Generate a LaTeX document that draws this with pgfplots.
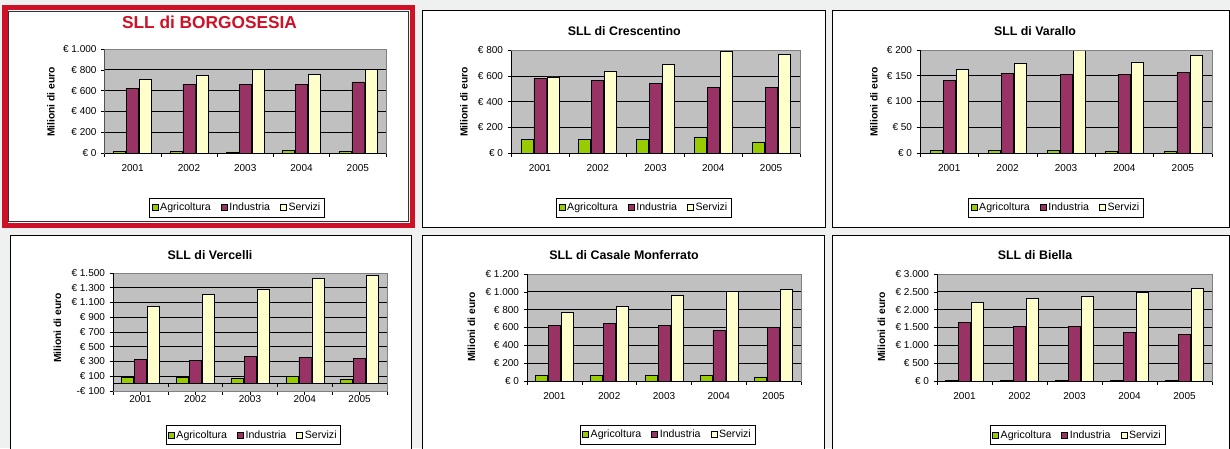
\documentclass[border=0pt]{standalone}
\usepackage{fontspec}
\setmainfont{Liberation Sans}
\usepackage{pgfplots}
\pgfplotsset{compat=1.18}
\definecolor{bgc}{RGB}{239,240,240}
\definecolor{agri}{RGB}{153,204,0}
\definecolor{ind}{RGB}{153,51,102}
\definecolor{serv}{RGB}{255,255,204}
\definecolor{plotbg}{RGB}{192,192,192}
\definecolor{plotborder}{RGB}{128,128,128}
\definecolor{titlered}{RGB}{206,17,38}
\pgfplotsset{
  panel/.style={
    scale only axis,
    anchor=south west,
    ybar=1pt, bar width=12pt,
    xmin=-0.5, xmax=4.5,
    xtick={-0.5,0.5,1.5,2.5,3.5,4.5}, xticklabels={},
    extra x ticks={0,1,2,3,4},
    extra x tick labels={2001,2002,2003,2004,2005},
    extra x tick style={major tick length=0pt, tick label style={yshift=-8pt}},
    tick pos=left, tick align=outside, major tick length=3.5pt,
    tick style={black, line width=0.6pt},
    ymajorgrids, grid style={black, line width=0.7pt},
    axis line style={draw=plotborder, line width=0.9pt},
    axis background/.style={fill=plotbg},
    tick label style={font=\fontsize{10}{12}\selectfont},
    yticklabel style={xshift=-1pt},
    legend columns=3,
    legend style={draw=black, line width=0.6pt, font=\fontsize{10.6}{12}\selectfont,
      inner xsep=2pt, inner ysep=3pt, at={(0.5,0)}, anchor=center,
      /tikz/every even column/.append style={column sep=8pt}},
    every axis plot/.append style={draw=black, line width=0.5pt,
      legend image code/.code={\draw[##1, draw=black, line width=0.5pt] (0pt,-3pt) rectangle (6pt,3pt);}},
  },
}
\newcommand{\axlines}{%
  \draw[plotborder, line width=0.9pt] (rel axis cs:0,1) -- (rel axis cs:1,1);
  \draw[black, line width=0.9pt] (rel axis cs:0,0) -- (rel axis cs:0,1);
}
\begin{document}
\begin{tikzpicture}[x=1pt,y=1pt]
\useasboundingbox (0,0) rectangle (1230,448);
\fill[bgc] (0,0) rectangle (1230,448);
% panels
\fill[white] (2,220) rectangle (415,443);
\draw[titlered, line width=5.5pt] (4.75,222.75) rectangle (412.25,440.25);
\draw[black!80, line width=0.7pt] (8,227) rectangle (408.5,437);
\draw[black, line width=1pt, fill=white] (422,221) rectangle (825,437);
\draw[black, line width=1pt, fill=white] (832,221) rectangle (1229.5,437);
\draw[black, line width=1pt, fill=white] (10,-5) rectangle (411,213);
\draw[black, line width=1pt, fill=white] (422,-5) rectangle (824,213);
\draw[black, line width=1pt, fill=white] (832,-5) rectangle (1229.5,213);
\coordinate (a1) at (104.5,295);
\coordinate (a2) at (511,295);
\coordinate (a3) at (920,295);
\coordinate (a4) at (113,57);
\coordinate (a5) at (527,67);
\coordinate (a6) at (937,67);
% titles
\node[font=\fontsize{17.3}{20}\selectfont\bfseries, text=titlered] at (209.5,425.3) {SLL di BORGOSESIA};
\node[font=\fontsize{12.4}{14}\selectfont\bfseries] at (624.3,417) {SLL di Crescentino};
\node[font=\fontsize{12.4}{14}\selectfont\bfseries] at (1035,417) {SLL di Varallo};
\node[font=\fontsize{12.4}{14}\selectfont\bfseries] at (210,193.3) {SLL di Vercelli};
\node[font=\fontsize{12.4}{14}\selectfont\bfseries] at (624,193) {SLL di Casale Monferrato};
\node[font=\fontsize{12.4}{14}\selectfont\bfseries] at (1035,193) {SLL di Biella};
% y labels
\foreach \p in {(51,346),(464,346),(874,346),(57.5,120),(471.5,121),(881.5,121)}
  \node[rotate=90, font=\fontsize{10.3}{12}\selectfont\bfseries] at \p {Milioni di euro};

% 1 Borgosesia
\begin{axis}[panel, at={(a1)}, width=281.5pt, height=104pt,
  ymin=0, ymax=1000, ytick={0,200,400,600,800,1000},
  yticklabels={€ 0,€ 200,€ 400,€ 600,€ 800,€ 1.000},
  legend style={xshift=-8.25pt, yshift=-54.5pt}]
\addplot[fill=agri] coordinates {(0,15) (1,15) (2,12) (3,25) (4,15)};
\addplot[fill=ind] coordinates {(0,625) (1,657) (2,657) (3,657) (4,683)};
\addplot[fill=serv] coordinates {(0,705) (1,744) (2,808) (3,753) (4,801)};
\legend{Agricoltura,Industria,Servizi}
\axlines
\draw[black, line width=0.9pt] (rel axis cs:0,0) -- (rel axis cs:1,0);
\end{axis}

% 2 Crescentino
\begin{axis}[panel, at={(a2)}, width=289pt, height=102.5pt,
  ymin=0, ymax=800, ytick={0,200,400,600,800},
  yticklabels={€ 0,€ 200,€ 400,€ 600,€ 800},
  legend style={xshift=-11.5pt, yshift=-54.5pt}]
\addplot[fill=agri] coordinates {(0,109) (1,109) (2,105) (3,125) (4,86)};
\addplot[fill=ind] coordinates {(0,584) (1,564) (2,545) (3,512) (4,514)};
\addplot[fill=serv] coordinates {(0,595) (1,642) (2,691) (3,797) (4,771)};
\legend{Agricoltura,Industria,Servizi}
\axlines
\draw[black, line width=0.9pt] (rel axis cs:0,0) -- (rel axis cs:1,0);
\end{axis}

% 3 Varallo
\begin{axis}[panel, at={(a3)}, width=292pt, height=103pt,
  ymin=0, ymax=200, ytick={0,50,100,150,200},
  yticklabels={€ 0,€ 50,€ 100,€ 150,€ 200},
  legend style={xshift=-10pt, yshift=-54.5pt}]
\addplot[fill=agri] coordinates {(0,5.8) (1,5.8) (2,5.8) (3,4) (4,4)};
\addplot[fill=ind] coordinates {(0,141) (1,155) (2,152) (3,152) (4,156)};
\addplot[fill=serv] coordinates {(0,162) (1,175) (2,200) (3,177) (4,190)};
\legend{Agricoltura,Industria,Servizi}
\axlines
\draw[black, line width=0.9pt] (rel axis cs:0,0) -- (rel axis cs:1,0);
\end{axis}

% 4 Vercelli
\begin{axis}[panel, at={(a4)}, width=274pt, height=118pt,
  xtick={}, 
  extra x tick style={tick label style={yshift=7pt}},
  ymin=-100, ymax=1500, ytick={-100,100,300,500,700,900,1100,1300,1500},
  yticklabels={-€ 100,€ 100,€ 300,€ 500,€ 700,€ 900,€ 1.100,€ 1.300,€ 1.500},
  legend style={xshift=3.3pt, yshift=-44pt}]
\addplot[fill=agri] coordinates {(0,89) (1,80) (2,71) (3,94) (4,58)};
\addplot[fill=ind] coordinates {(0,328) (1,315) (2,365) (3,360) (4,346)};
\addplot[fill=serv] coordinates {(0,1049) (1,1207) (2,1279) (3,1423) (4,1468)};
\legend{Agricoltura,Industria,Servizi}
\axlines
\draw[plotborder, line width=0.9pt] (rel axis cs:0,0) -- (rel axis cs:1,0);
\draw[black, line width=0.9pt] (axis cs:-0.5,0) -- (axis cs:4.5,0);
\draw[black, line width=0.6pt] (axis cs:-0.5,0) -- ++(0pt,-3.5pt);
\draw[black, line width=0.6pt] (axis cs:0.5,0) -- ++(0pt,-3.5pt);
\draw[black, line width=0.6pt] (axis cs:1.5,0) -- ++(0pt,-3.5pt);
\draw[black, line width=0.6pt] (axis cs:2.5,0) -- ++(0pt,-3.5pt);
\draw[black, line width=0.6pt] (axis cs:3.5,0) -- ++(0pt,-3.5pt);
\draw[black, line width=0.6pt] (axis cs:4.5,0) -- ++(0pt,-3.5pt);
\end{axis}

% 5 Casale Monferrato
\begin{axis}[panel, at={(a5)}, width=274pt, height=107pt,
  ymin=0, ymax=1200, ytick={0,200,400,600,800,1000,1200},
  yticklabels={€ 0,€ 200,€ 400,€ 600,€ 800,€ 1.000,€ 1.200},
  legend style={xshift=3.5pt, yshift=-53.7pt}]
\addplot[fill=agri] coordinates {(0,67) (1,67) (2,63) (3,67) (4,45)};
\addplot[fill=ind] coordinates {(0,628) (1,646) (2,628) (3,568) (4,598)};
\addplot[fill=serv] coordinates {(0,776) (1,836) (2,958) (3,1003) (4,1025)};
\legend{Agricoltura,Industria,Servizi}
\axlines
\draw[black, line width=0.9pt] (rel axis cs:0,0) -- (rel axis cs:1,0);
\end{axis}

% 6 Biella
\begin{axis}[panel, at={(a6)}, width=275pt, height=107pt,
  ymin=0, ymax=3000, ytick={0,500,1000,1500,2000,2500,3000},
  yticklabels={€ 0,€ 500,€ 1.000,€ 1.500,€ 2.000,€ 2.500,€ 3.000},
  legend style={xshift=3pt, yshift=-54pt}]
\addplot[fill=agri] coordinates {(0,20) (1,20) (2,20) (3,20) (4,20)};
\addplot[fill=ind] coordinates {(0,1644) (1,1532) (2,1532) (3,1365) (4,1310)};
\addplot[fill=serv] coordinates {(0,2201) (1,2313) (2,2387) (3,2480) (4,2591)};
\legend{Agricoltura,Industria,Servizi}
\axlines
\draw[black, line width=0.9pt] (rel axis cs:0,0) -- (rel axis cs:1,0);
\end{axis}
\end{tikzpicture}
\end{document}
